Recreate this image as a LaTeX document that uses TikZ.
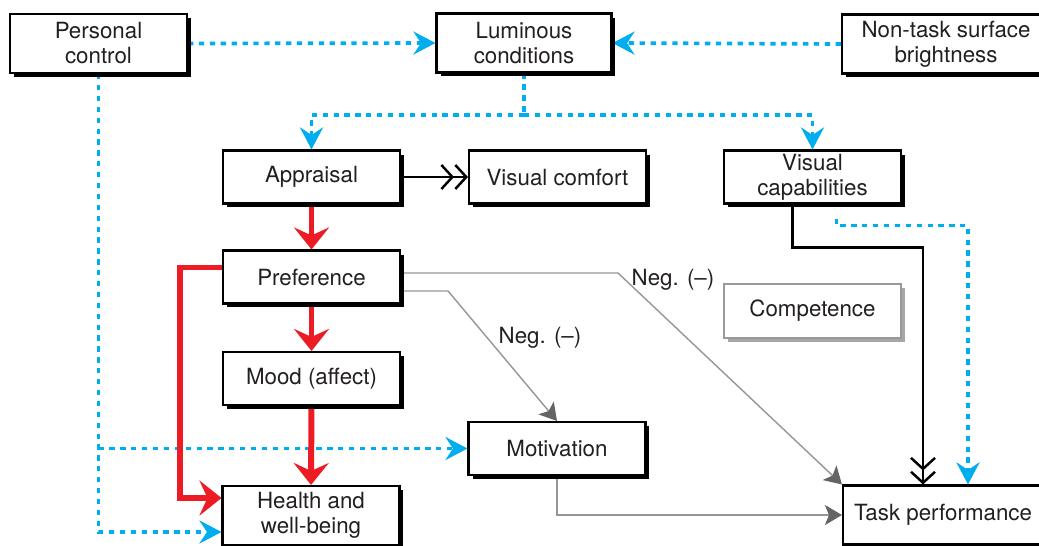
\documentclass[tikz,border=0pt]{standalone}
\usepackage{fontspec}
\setmainfont{TeX Gyre Heros}
\usetikzlibrary{arrows.meta, shadows, backgrounds, positioning}
\definecolor{cueblue}{RGB}{0,174,239}
\definecolor{pathred}{RGB}{237,28,36}
\definecolor{linkgray}{RGB}{150,150,150}
\definecolor{tipgray}{RGB}{100,100,100}
\definecolor{inkgray}{RGB}{35,31,32}
\newcommand{\boxfont}{\fontsize{12.7pt}{14.2pt}\selectfont}
\tikzset{
  fac/.style={rectangle, draw=black, line width=1.2pt, fill=white,
    minimum width=35.4mm, minimum height=10.6mm, inner sep=1pt,
    font=\boxfont, text=inkgray, align=center,
    drop shadow={shadow xshift=0.8mm, shadow yshift=-0.8mm, fill=black, opacity=1}},
  factall/.style={fac, minimum height=11.8mm},
  faint/.style={rectangle, draw=gray!80, line width=1.2pt, fill=white,
    minimum width=35.4mm, minimum height=10.8mm, inner sep=1pt,
    font=\boxfont, text=inkgray, align=center,
    drop shadow={shadow xshift=0.8mm, shadow yshift=-0.8mm, fill=gray!70, opacity=1}},
  cue/.style={cueblue, line width=2.1pt, dash pattern=on 3pt off 3.2pt,
    -{Stealth[length=4.4mm, width=4.6mm, inset=1.5mm]}},
  cueline/.style={cueblue, line width=2.1pt, dash pattern=on 3pt off 3.2pt},
  pathway/.style={pathred, line width=3.4pt,
    -{Stealth[length=4.4mm, width=7mm, inset=1.6mm]}},
  dbl/.style={black, line width=1.4pt,
    -{Straight Barb[length=2.2mm, width=4.8mm]Straight Barb[length=2.2mm, width=4.8mm]}},
  link/.style={linkgray, line width=0.8pt,
    -{Stealth[length=3.4mm, width=4mm, inset=0.8mm, color=tipgray]}},
  neg/.style={font=\boxfont, text=inkgray, inner sep=0pt}
}
\begin{document}
\begin{tikzpicture}[x=0.02cm, y=-0.02cm]
  \useasboundingbox (0,0) rectangle (1039,545);
  % top row
  \node[factall] (pc) at (98.5,43.5) {Personal\\control};
  \node[factall, minimum width=35mm] (lum) at (524,43) {Luminous\\conditions};
  \node[factall, minimum width=41.6mm] (nts) at (946,44) {Non-task surface\\brightness};
  % middle
  \node[fac] (app) at (311.5,177) {Appraisal};
  \node[fac] (vcom) at (557.5,177) {Visual comfort};
  \node[fac] (vcap) at (812.5,177) {Visual\\capabilities};
  \node[fac] (pref) at (311.5,277) {Preference};
  \node[faint] (comp) at (812.5,311) {Competence};
  \node[fac] (mood) at (311.5,378.5) {Mood (affect)};
  \node[fac] (mot) at (557,448.5) {Motivation};
  % outcomes
  \node[factall] (hw) at (311,515.5) {Health and\\well-being};
  \node[factall, minimum width=40mm] (tp) at (943,515) {Task performance};
  \node[neg] (negtp) at (673,280) {Neg. (--)};
  \node[neg] (negmot) at (540,338) {Neg. (--)};
  \coordinate (lumsplit) at (524,115);

  \begin{scope}[on background layer]
    \draw[cue] (pc.east) -- (lum.west);
    \draw[cue] (nts.west) -- (lum.east);
    \draw[cueline] (lum.south) -- (lumsplit);
    \draw[cue] (lumsplit) -| (app.north);
    \draw[cue] (lumsplit) -| (vcap.north);
    \draw[cue] (pc.south) |- ([yshift=-3.3mm]hw.west);
    \draw[cue] (pc.south |- mot.west) -- (mot.west);
    \draw[cue] ([xshift=4.8mm, yshift=-2.8mm]vcap.south) -- ++(0,7) -| ([xshift=5mm]tp.north);

    \draw[pathway] (app.south) -- (pref.north);
    \draw[pathway] (pref.south) -- (mood.north);
    \draw[pathway] (mood.south) -- (hw.north);
    \draw[pathway] ([yshift=1.9mm]pref.west) -- ++(-42,0) |- ([yshift=3.5mm]hw.west);

    \draw[dbl] (app.east) -- (vcom.west);
    \draw[dbl] ([xshift=-4mm]vcap.south) -- ++(0,43) -| ([xshift=-4mm]tp.north);

    \draw[link] ([yshift=0.8mm]pref.east) -- ++(217,0) -- (tp.north west);
    \draw[link] ([yshift=-2.8mm]pref.east) -- ++(47,0) -- (mot.north);
    \draw[link] (mot.south) |- (tp.west);
  \end{scope}
\end{tikzpicture}
\end{document}
